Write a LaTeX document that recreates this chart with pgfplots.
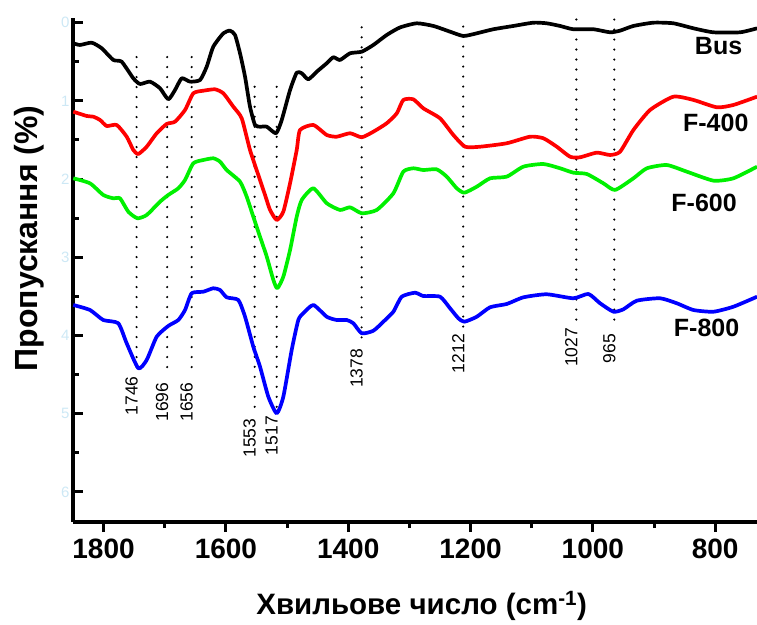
\documentclass[border=0pt]{standalone}
\usepackage{fontspec}
\setmainfont{Liberation Sans}
\usepackage{pgfplots}
\pgfplotsset{compat=1.18}
\definecolor{faint}{RGB}{205,232,245}
\definecolor{cgreen}{RGB}{0,240,0}
\tikzset{
 dl/.style={black, line width=2.4pt, line cap=round, dash pattern=on 0pt off 10pt},
 pl/.style={rotate=90, anchor=east, inner sep=0pt, yshift=5pt, font=\fontsize{17.5}{20}\selectfont},
 sn/.style={anchor=center, inner sep=0pt, font=\bfseries\fontsize{25}{28}\selectfont},
 cv/.style={line width=3.7pt, line join=round, smooth, tension=0.35},
}
\begin{document}
\begin{tikzpicture}
\begin{axis}[
 scale only axis, width=685pt, height=503.7pt,
 x dir=reverse, y dir=reverse,
 xmin=730, xmax=1850, ymin=-0.056, ymax=6.385,
 axis x line*=bottom, axis y line*=left,
 axis line style={line width=3.5pt, -},
 xtick={800,1000,...,1800}, minor x tick num=1,
 ytick={0,...,6}, minor y tick num=1,
 major tick length=10pt, minor tick length=6pt,
 every tick/.style={black, line width=3pt},
 xtick align=outside, ytick align=inside,
 /pgf/number format/assume math mode=true,
 /pgf/number format/1000 sep={},
 xticklabel style={font=\bfseries\fontsize{28}{32}\selectfont, yshift=-3pt},
 yticklabel style={font=\fontsize{15}{18}\selectfont, text=faint},
 xlabel={Хвильове число (cm\textsuperscript{-1})},
 xlabel style={font=\bfseries\fontsize{29.5}{34}\selectfont, at={(axis description cs:0.509,0)}, anchor=center, yshift=-84pt},
 ylabel={Пропускання (\%)},
 ylabel style={font=\bfseries\fontsize{32}{36}\selectfont, at={(axis description cs:-0.0642,0.563)}, anchor=center},
 clip=true,
]
% dotted marker lines
\addplot[dl] coordinates {(1746,0.44) (1746,4.43)};
\addplot[dl] coordinates {(1696,0.44) (1696,4.52)};
\addplot[dl] coordinates {(1656,0.44) (1656,4.52)};
\addplot[dl] coordinates {(1553,0.82) (1553,4.98)};
\addplot[dl] coordinates {(1517,0.82) (1517,4.95)};
\addplot[dl] coordinates {(1378,0.06) (1378,4.10)};
\addplot[dl] coordinates {(1212,0.05) (1212,3.92)};
\addplot[dl] coordinates {(1027,-0.04) (1027,3.85)};
\addplot[dl] coordinates {(965,-0.04) (965,3.92)};
% Bus
\addplot[black, cv] coordinates {
(1849.5,0.263)(1838.6,0.285)(1819.4,0.256)(1803.1,0.327)(1784.1,0.477)(1770.4,0.499)
(1751.4,0.711)(1740.4,0.784)(1724.1,0.754)(1707.7,0.839)(1694.2,0.980)(1683.2,0.861)
(1672.2,0.711)(1658.7,0.754)(1642.3,0.733)(1631.4,0.563)(1620.6,0.307)(1604.2,0.136)
(1593.3,0.102)(1585.1,0.157)(1576.9,0.391)(1568.7,0.691)(1560.6,1.074)(1552.4,1.308)
(1544.2,1.330)(1533.2,1.330)(1518.0,1.414)(1508.7,1.244)(1495.1,0.861)(1484.2,0.639)
(1476.0,0.647)(1465.2,0.724)(1451.5,0.627)(1435.1,0.519)(1424.3,0.442)(1413.4,0.477)
(1397.0,0.391)(1377.9,0.371)(1358.9,0.285)(1337.0,0.157)(1315.3,0.061)(1287.9,0.008)
(1260.8,0.042)(1233.5,0.115)(1211.7,0.170)(1189.8,0.136)(1162.7,0.084)(1130.0,0.042)
(1097.3,0.000)(1075.4,0.008)(1053.6,0.042)(1031.9,0.084)(999.2,0.084)(971.8,0.123)
(955.5,0.102)(933.7,0.042)(901.0,0.000)(868.3,0.008)(835.6,0.072)(802.9,0.123)
(759.3,0.123)(731.5,0.072)};
% F-400
\addplot[red, cv] coordinates {
(1849.5,1.138)(1827.6,1.193)(1816.8,1.202)(1805.8,1.244)(1794.9,1.321)(1778.5,1.308)
(1762.2,1.458)(1751.4,1.628)(1743.2,1.679)(1729.5,1.586)(1713.1,1.414)(1696.8,1.295)
(1683.2,1.266)(1666.8,1.116)(1653.3,0.903)(1636.9,0.870)(1617.8,0.852)(1604.2,0.903)
(1587.9,1.074)(1574.1,1.223)(1560.6,1.628)(1547.0,1.948)(1536.0,2.203)(1527.8,2.395)
(1516.9,2.523)(1506.1,2.417)(1495.1,2.054)(1484.2,1.628)(1478.8,1.372)(1457.0,1.308)
(1435.1,1.436)(1418.8,1.458)(1397.0,1.414)(1377.9,1.465)(1358.9,1.394)(1337.0,1.286)
(1320.6,1.159)(1309.9,0.988)(1293.5,0.980)(1277.2,1.095)(1249.9,1.223)(1228.1,1.436)
(1209.0,1.586)(1184.4,1.586)(1140.8,1.542)(1102.7,1.458)(1080.9,1.478)(1059.0,1.586)
(1037.3,1.714)(1020.9,1.721)(993.6,1.662)(971.8,1.692)(955.5,1.650)(933.7,1.372)
(906.4,1.116)(868.3,0.946)(835.6,0.988)(797.3,1.082)(770.2,1.052)(731.5,0.946)};
% F-600
\addplot[cgreen, cv] coordinates {
(1849.5,1.990)(1822.2,2.054)(1800.5,2.203)(1784.1,2.246)(1773.1,2.246)(1759.6,2.417)
(1744.8,2.501)(1729.5,2.459)(1707.7,2.289)(1694.2,2.203)(1677.8,2.118)(1666.8,2.011)
(1653.3,1.798)(1636.9,1.756)(1620.6,1.734)(1609.6,1.777)(1598.7,1.884)(1576.9,2.033)
(1566.0,2.225)(1555.2,2.481)(1544.2,2.737)(1533.2,2.992)(1522.4,3.290)(1515.9,3.396)
(1506.1,3.248)(1495.1,2.907)(1484.2,2.481)(1476.0,2.267)(1457.0,2.118)(1435.1,2.309)
(1413.4,2.395)(1397.0,2.361)(1377.9,2.437)(1353.4,2.395)(1326.2,2.182)(1309.9,1.905)
(1293.5,1.862)(1277.2,1.884)(1255.3,1.875)(1238.9,1.969)(1222.5,2.118)(1210.1,2.174)
(1189.8,2.097)(1168.1,1.990)(1140.8,1.969)(1113.6,1.841)(1080.9,1.807)(1053.6,1.862)
(1031.9,1.918)(1009.9,1.935)(982.8,2.054)(963.7,2.139)(933.7,1.990)(911.8,1.862)
(879.1,1.820)(846.4,1.905)(802.9,2.020)(770.2,1.990)(731.5,1.841)};
% F-800
\addplot[blue, cv] coordinates {
(1849.5,3.610)(1822.2,3.674)(1800.5,3.802)(1775.9,3.844)(1762.2,4.100)(1743.2,4.419)
(1729.5,4.313)(1713.1,4.015)(1694.2,3.878)(1677.8,3.802)(1666.8,3.674)(1655.9,3.460)
(1636.9,3.440)(1620.6,3.396)(1609.6,3.418)(1598.7,3.512)(1579.7,3.546)(1568.7,3.760)
(1555.2,4.143)(1544.2,4.399)(1530.6,4.783)(1516.9,4.995)(1506.1,4.783)(1492.4,4.185)
(1481.6,3.802)(1473.4,3.716)(1457.0,3.610)(1435.1,3.760)(1418.8,3.802)(1402.4,3.802)
(1391.6,3.844)(1377.9,3.972)(1358.9,3.939)(1342.6,3.824)(1326.2,3.696)(1312.5,3.504)
(1290.7,3.453)(1277.2,3.495)(1249.9,3.504)(1233.5,3.652)(1219.9,3.780)(1210.1,3.824)
(1189.8,3.760)(1168.1,3.639)(1140.8,3.597)(1113.6,3.512)(1075.4,3.473)(1031.9,3.524)
(1007.3,3.469)(988.2,3.588)(966.4,3.696)(950.1,3.665)(928.2,3.555)(890.1,3.524)
(862.8,3.588)(835.6,3.674)(802.9,3.696)(770.2,3.632)(731.5,3.504)};
% peak labels
\node[pl] at (axis cs:1746,4.52) {1746};
\node[pl] at (axis cs:1696,4.60) {1696};
\node[pl] at (axis cs:1656,4.60) {1656};
\node[pl] at (axis cs:1553,5.06) {1553};
\node[pl] at (axis cs:1517,5.03) {1517};
\node[pl] at (axis cs:1378,4.17) {1378};
\node[pl] at (axis cs:1212,3.98) {1212};
\node[pl] at (axis cs:1027,3.90) {1027};
\node[pl] at (axis cs:965,3.98) {965};
% series names
\node[sn] at (axis cs:794.4,0.298) {Bus};
\node[sn] at (axis cs:799,1.283) {F-400};
\node[sn] at (axis cs:818.1,2.299) {F-600};
\node[sn] at (axis cs:814,3.904) {F-800};
\end{axis}
\pgfresetboundingbox
\path (current axis.south west) ++(-73pt,-102pt) rectangle ++(757pt,624pt);
\end{tikzpicture}
\end{document}
